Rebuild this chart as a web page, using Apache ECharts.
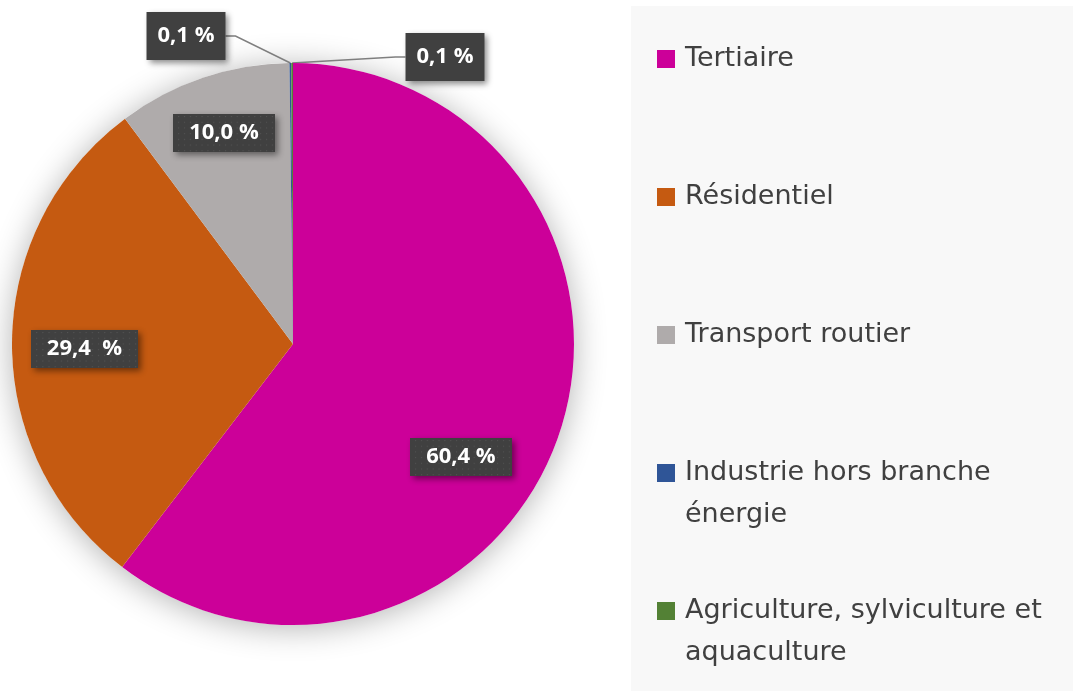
<!DOCTYPE html>
<html>
<head>
<meta charset="utf-8">
<script src="https://cdn.jsdelivr.net/npm/echarts@6/dist/echarts.min.js"></script>
<style>
  html, body { margin: 0; padding: 0; background: #ffffff; }
  #chart { width: 1073px; height: 691px; }
</style>
</head>
<body>
<div id="chart"></div>
<script>
// Répartition des consommations par secteur (%)
const sectors = [
  'Tertiaire',
  'Résidentiel',
  'Transport routier',
  'Industrie hors branche énergie',
  'Agriculture, sylviculture et aquaculture'
];
const shares = [60.4, 29.4, 10.0, 0.1, 0.1];
const sectorColors = ['#CC0099', '#C55A11', '#AFABAB', '#2F5597', '#538135'];
// legend text split over two lines where it wraps
const legendLines = [
  ['Tertiaire', ' '],
  ['Résidentiel', ' '],
  ['Transport routier', ' '],
  ['Industrie hors branche', 'énergie'],
  ['Agriculture, sylviculture et', 'aquaculture']
];
const valueSeparators = [' ', '  ', ' ', ' ', ' '];

// layout
const CENTER = [293, 344];
const RADIUS = 281;
// label placement: inside labels are nudged, the two tiny slices get callouts
const labelPlacement = [
  { dx: 32, dy: 67 },
  { dx: -65, dy: 6 },
  { dx: -23, dy: -75 },
  { x: 186, y: 36 },
  { x: 445, y: 57 }
];

const fmt = (v, i) => v.toFixed(1).replace('.', ',') + valueSeparators[i] + '%';

// small dotted texture for the label boxes
function dotTexture(w, h) {
  const c = document.createElement('canvas');
  c.width = w; c.height = h;
  const g = c.getContext('2d');
  g.fillStyle = '#404040';
  g.fillRect(0, 0, w, h);
  g.fillStyle = 'rgba(255,255,255,0.10)';
  for (let y = 2; y < h; y += 6) {
    for (let x = (y / 6) % 2 ? 5 : 2; x < w; x += 6) {
      g.fillRect(x, y, 1.2, 1.2);
    }
  }
  return c;
}

const chart = echarts.init(document.getElementById('chart'), null, { renderer: 'canvas' });

const labelBase = {
  color: '#ffffff',
  fontFamily: 'Open Sans',
  fontWeight: 'bold',
  fontSize: 22,
  shadowColor: 'rgba(0,0,0,0.45)',
  shadowBlur: 6,
  shadowOffsetX: 3,
  shadowOffsetY: 3
};

const data = sectors.map((name, i) => {
  const outside = i >= 3;
  return {
    name,
    value: shares[i],
    itemStyle: { color: sectorColors[i] },
    label: Object.assign({
      show: true,
      position: outside ? 'outside' : 'inside',
      formatter: () => fmt(shares[i], i),
      padding: outside ? [13, 11, 13, 11] : [8, 16, 8, 16],
      backgroundColor: outside ? '#404040' : { image: dotTexture(104, 40) }
    }, labelBase),
    labelLine: {
      show: outside,
      length: 20,
      length2: 10,
      lineStyle: { color: '#7f7f7f', width: 1.5 }
    }
  };
});

chart.setOption({
  backgroundColor: '#ffffff',
  animation: false,
  graphic: [
    {
      type: 'rect',
      left: 631, top: 6,
      shape: { width: 442, height: 685 },
      style: { fill: '#f8f8f8' },
      z: -10
    },
    {
      type: 'circle',
      shape: { cx: CENTER[0], cy: CENTER[1], r: RADIUS },
      style: {
        fill: '#ffffff',
        shadowColor: 'rgba(0,0,0,0.30)',
        shadowBlur: 32,
        shadowOffsetY: 3
      },
      z: -5
    }
  ],
  legend: {
    orient: 'vertical',
    left: 652,
    top: -9,
    itemWidth: 18,
    itemHeight: 18,
    itemGap: 12,
    icon: 'rect',
    selectedMode: false,
    data: sectors,
    formatter: (name) => {
      const i = sectors.indexOf(name);
      return '\n' + legendLines[i][0] + '\n' + legendLines[i][1];
    },
    textStyle: {
      color: '#404040',
      fontFamily: 'DejaVu Sans',
      fontSize: 27,
      lineHeight: 42,
      padding: [0, 0, 0, 5]
    }
  },
  series: [{
    type: 'pie',
    center: CENTER,
    radius: RADIUS,
    startAngle: 90,
    clockwise: true,
    avoidLabelOverlap: false,
    itemStyle: { borderWidth: 0 },
    emphasis: { disabled: true },
    data,
    labelLayout: (params) => {
      const p = labelPlacement[params.dataIndex];
      if (p.x !== undefined) {
        return { x: p.x, y: p.y, align: 'center', verticalAlign: 'middle' };
      }
      return { dx: p.dx, dy: p.dy };
    }
  }]
});
</script>
</body>
</html>
